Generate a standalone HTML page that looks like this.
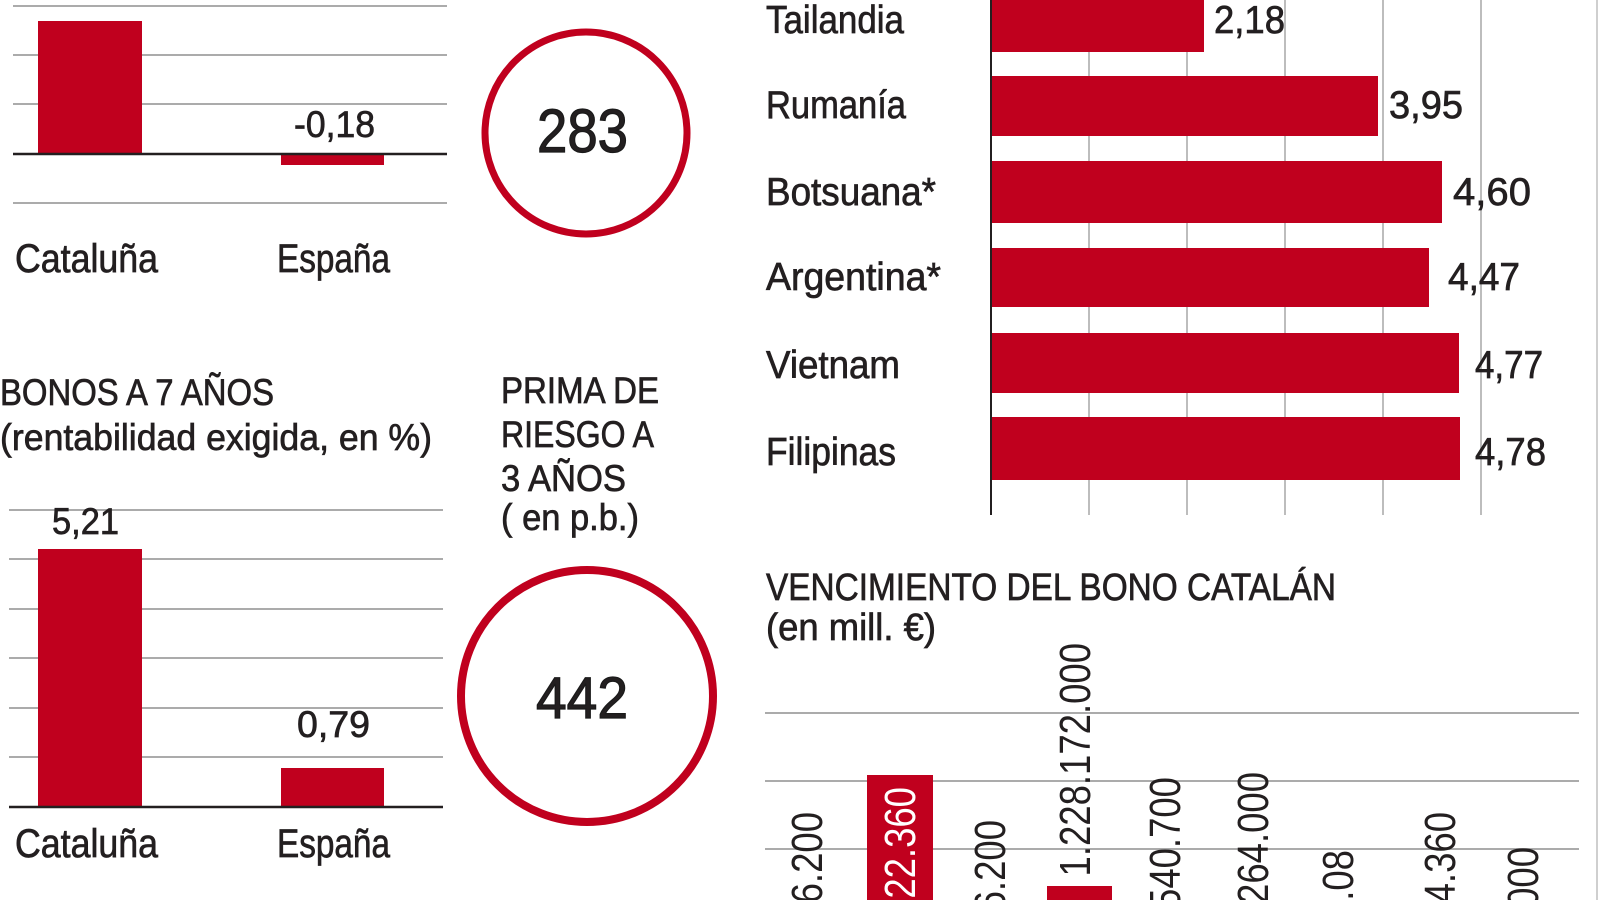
<!DOCTYPE html>
<html>
<head>
<meta charset="utf-8">
<style>
  html, body { margin:0; padding:0; background:#ffffff; }
  body { width:1600px; height:900px; overflow:hidden; }
  svg { display:block; }
  text { font-family: "Liberation Sans", "DejaVu Sans", sans-serif; fill:#231f20; }
  .h { stroke:#231f20; stroke-width:0.7px; }
  .hb { stroke:#1a1a1a; stroke-width:1.2px; }
</style>
</head>
<body>
<svg width="1600" height="900" viewBox="0 0 1600 900" xmlns="http://www.w3.org/2000/svg">
  <rect x="0" y="0" width="1600" height="900" fill="#ffffff"/>

  <!-- ============ TOP-LEFT CHART ============ -->
  <g stroke="#ababab" stroke-width="2">
    <line x1="13" y1="6" x2="447" y2="6"/>
    <line x1="13" y1="55" x2="447" y2="55"/>
    <line x1="13" y1="104" x2="447" y2="104"/>
    <line x1="13" y1="203" x2="447" y2="203"/>
  </g>
  <rect x="38" y="21" width="104" height="133" fill="#c0001e"/>
  <rect x="281" y="154" width="103" height="11" fill="#c0001e"/>
  <line x1="13" y1="154" x2="447" y2="154" stroke="#231f20" stroke-width="2.5"/>
  <text class="h" x="294" y="137" font-size="37" textLength="81" lengthAdjust="spacingAndGlyphs">-0,18</text>
  <text class="h" x="15" y="272" font-size="40" textLength="143" lengthAdjust="spacingAndGlyphs">Cataluña</text>
  <text class="h" x="277" y="272" font-size="40" textLength="113" lengthAdjust="spacingAndGlyphs">España</text>

  <!-- circle 283 -->
  <circle cx="586" cy="133" r="101" fill="none" stroke="#c0001e" stroke-width="7"/>
  <text class="hb" x="537" y="152" font-size="61" textLength="91" lengthAdjust="spacingAndGlyphs" fill="#1a1a1a">283</text>

  <!-- ============ BOTTOM-LEFT CHART ============ -->
  <text class="h" x="0" y="405" font-size="37" textLength="274" lengthAdjust="spacingAndGlyphs">BONOS A 7 AÑOS</text>
  <text class="h" x="0" y="450" font-size="37" textLength="432" lengthAdjust="spacingAndGlyphs">(rentabilidad exigida, en %)</text>

  <text class="h" x="501" y="403" font-size="37" textLength="158" lengthAdjust="spacingAndGlyphs">PRIMA DE</text>
  <text class="h" x="501" y="447" font-size="37" textLength="153" lengthAdjust="spacingAndGlyphs">RIESGO A</text>
  <text class="h" x="501" y="491" font-size="37" textLength="125" lengthAdjust="spacingAndGlyphs">3 AÑOS</text>
  <text class="h" x="501" y="530" font-size="37" textLength="138" lengthAdjust="spacingAndGlyphs">( en p.b.)</text>

  <g stroke="#ababab" stroke-width="2">
    <line x1="9" y1="510" x2="443" y2="510"/>
    <line x1="9" y1="559" x2="443" y2="559"/>
    <line x1="9" y1="609" x2="443" y2="609"/>
    <line x1="9" y1="658" x2="443" y2="658"/>
    <line x1="9" y1="708" x2="443" y2="708"/>
    <line x1="9" y1="757" x2="443" y2="757"/>
  </g>
  <rect x="38" y="549" width="104" height="258" fill="#c0001e"/>
  <rect x="281" y="768" width="103" height="39" fill="#c0001e"/>
  <line x1="9" y1="807" x2="443" y2="807" stroke="#231f20" stroke-width="2.5"/>
  <text class="h" x="52" y="534" font-size="37" textLength="67" lengthAdjust="spacingAndGlyphs">5,21</text>
  <text class="h" x="297" y="737" font-size="37" textLength="73" lengthAdjust="spacingAndGlyphs">0,79</text>
  <text class="h" x="15" y="857" font-size="40" textLength="143" lengthAdjust="spacingAndGlyphs">Cataluña</text>
  <text class="h" x="277" y="857" font-size="40" textLength="113" lengthAdjust="spacingAndGlyphs">España</text>

  <!-- circle 442 -->
  <circle cx="587" cy="696" r="126" fill="none" stroke="#c0001e" stroke-width="8"/>
  <text class="hb" x="536" y="718" font-size="58" textLength="92" lengthAdjust="spacingAndGlyphs" fill="#1a1a1a">442</text>

  <!-- ============ TOP-RIGHT HORIZONTAL BARS ============ -->
  <g stroke="#bdbdbd" stroke-width="2">
    <line x1="1089" y1="0" x2="1089" y2="515"/>
    <line x1="1187" y1="0" x2="1187" y2="515"/>
    <line x1="1285" y1="0" x2="1285" y2="515"/>
    <line x1="1383" y1="0" x2="1383" y2="515"/>
    <line x1="1481" y1="0" x2="1481" y2="515"/>
  </g>
  <g fill="#c0001e">
    <rect x="991" y="-9" width="213" height="61"/>
    <rect x="991" y="76" width="387" height="60"/>
    <rect x="991" y="161" width="451" height="62"/>
    <rect x="991" y="248" width="438" height="59"/>
    <rect x="991" y="333" width="468" height="60"/>
    <rect x="991" y="417" width="469" height="63"/>
  </g>
  <line x1="991" y1="0" x2="991" y2="515" stroke="#231f20" stroke-width="2"/>

  <g font-size="39" class="h">
    <text x="766" y="33" textLength="138" lengthAdjust="spacingAndGlyphs">Tailandia</text>
    <text x="766" y="118" textLength="140" lengthAdjust="spacingAndGlyphs">Rumanía</text>
    <text x="766" y="205" textLength="170" lengthAdjust="spacingAndGlyphs">Botsuana*</text>
    <text x="766" y="290" textLength="175" lengthAdjust="spacingAndGlyphs">Argentina*</text>
    <text x="766" y="378" textLength="134" lengthAdjust="spacingAndGlyphs">Vietnam</text>
    <text x="766" y="465" textLength="130" lengthAdjust="spacingAndGlyphs">Filipinas</text>
  </g>
  <g font-size="39" class="h">
    <text x="1214" y="33" textLength="71" lengthAdjust="spacingAndGlyphs">2,18</text>
    <text x="1389" y="118" textLength="74" lengthAdjust="spacingAndGlyphs">3,95</text>
    <text x="1453" y="205" textLength="78" lengthAdjust="spacingAndGlyphs">4,60</text>
    <text x="1448" y="290" textLength="72" lengthAdjust="spacingAndGlyphs">4,47</text>
    <text x="1475" y="378" textLength="68" lengthAdjust="spacingAndGlyphs">4,77</text>
    <text x="1475" y="465" textLength="71" lengthAdjust="spacingAndGlyphs">4,78</text>
  </g>

  <!-- ============ BOTTOM-RIGHT: VENCIMIENTO ============ -->
  <text class="h" x="766" y="600" font-size="38" textLength="570" lengthAdjust="spacingAndGlyphs">VENCIMIENTO DEL BONO CATALÁN</text>
  <text class="h" x="766" y="640" font-size="38" textLength="170" lengthAdjust="spacingAndGlyphs">(en mill. €)</text>

  <g stroke="#ababab" stroke-width="2">
    <line x1="765" y1="713" x2="1579" y2="713"/>
    <line x1="765" y1="781" x2="1579" y2="781"/>
    <line x1="765" y1="849" x2="1579" y2="849"/>
  </g>
  <rect x="867" y="775" width="66" height="130" fill="#c0001e"/>
  <rect x="1047" y="886" width="65" height="20" fill="#c0001e"/>

  <g font-size="44" text-anchor="end">
    <text transform="translate(822,812) rotate(-90) scale(0.83,1)">16.200</text>
    <text transform="translate(915,787) rotate(-90) scale(0.83,1)" style="fill:#ffffff">622.360</text>
    <text transform="translate(1005,820) rotate(-90) scale(0.83,1)">16.200</text>
    <text transform="translate(1090,643) rotate(-90) scale(0.83,1)">1.228.172.000</text>
    <text transform="translate(1180,777) rotate(-90) scale(0.83,1)">540.700</text>
    <text transform="translate(1268,772) rotate(-90) scale(0.83,1)">1.264.000</text>
    <text transform="translate(1353,850) rotate(-90) scale(0.83,1)">1.08</text>
    <text transform="translate(1455,812) rotate(-90) scale(0.83,1)">14.360</text>
    <text transform="translate(1538,847) rotate(-90) scale(0.83,1)">5.000</text>
  </g>

  <!-- right edge rule -->
  <line x1="1597" y1="0" x2="1597" y2="900" stroke="#cfcfcf" stroke-width="2"/>
</svg>
</body>
</html>
